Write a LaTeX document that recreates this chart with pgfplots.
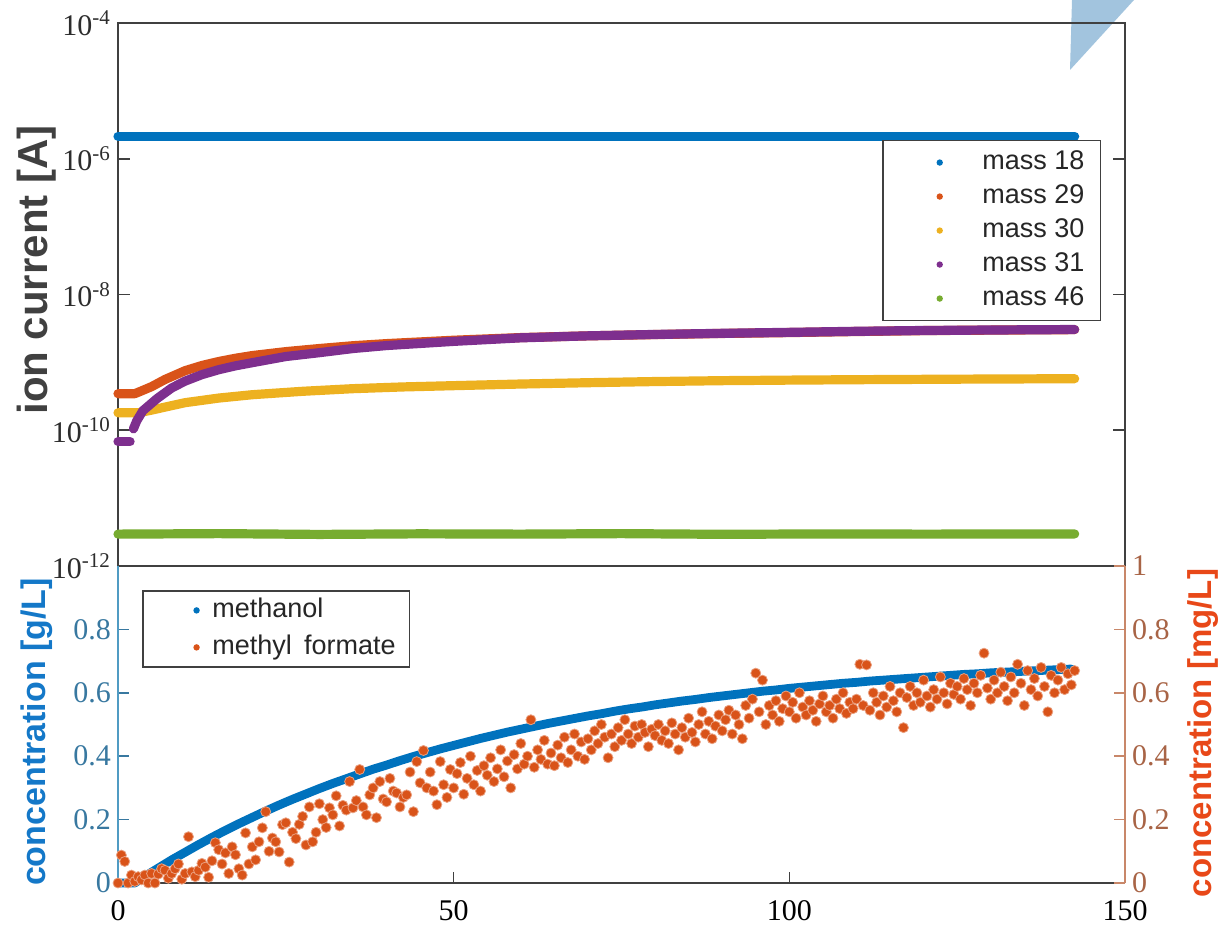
\documentclass[border=0pt]{standalone}
\usepackage{pgfplots}
\pgfplotsset{compat=1.18}
\usepackage{fontspec}
\setmainfont{Liberation Serif}
\newfontfamily\arial{Liberation Sans}

\definecolor{m18}{RGB}{0,114,189}
\definecolor{m29}{RGB}{217,83,25}
\definecolor{m30}{RGB}{237,177,32}
\definecolor{m31}{RGB}{126,47,142}
\definecolor{m46}{RGB}{119,172,48}
\definecolor{frame}{RGB}{64,64,64}
\definecolor{ticktext}{RGB}{45,45,45}
\definecolor{legtext}{RGB}{38,38,38}
\definecolor{lspine}{RGB}{80,155,195}
\definecolor{ltick}{RGB}{56,120,160}
\definecolor{rspine}{RGB}{200,135,105}
\definecolor{rtick}{RGB}{168,100,70}
\definecolor{lhead}{RGB}{20,120,200}
\definecolor{rhead}{RGB}{232,72,24}
\definecolor{corner}{RGB}{162,196,222}

\newcommand\tickfont{\fontsize{15}{17}\selectfont}
\newcommand\legfont{\arial\fontsize{13.5}{15}\selectfont}

\begin{document}
\begin{tikzpicture}
\path[use as bounding box] (0pt,0pt) rectangle (613.5pt,464pt);
% shaded corner mark
\fill[corner] (536pt,464pt) -- (567pt,464pt) -- (535pt,429pt) -- cycle;

% ---------------- ion currents (log scale) ----------------
\begin{axis}[
  at={(59pt,181pt)}, anchor=south west,
  scale only axis, width=503.5pt, height=271.5pt,
  xmin=0, xmax=150, ymode=log, ymin=1e-12, ymax=1e-4,
  xtick=\empty,
  ytick={1e-12,1e-10,1e-8,1e-6,1e-4},
  yticklabels={10\textsuperscript{-12},10\textsuperscript{-10},10\textsuperscript{-8},10\textsuperscript{-6},10\textsuperscript{-4}},
  yminorticks=false,
  ytick pos=both, yticklabel pos=left, tick align=inside,
  major tick length=6pt,
  axis line style={frame, line width=1pt},
  tick style={frame, line width=0.8pt},
  yticklabel style={font=\tickfont, color=ticktext},
  clip=false,
  legend cell align=left,
  legend style={at={(0.759,0.785)}, anchor=north west, draw=frame, line width=0.8pt,
    fill=white, inner xsep=6pt, inner ysep=2.5pt, font=\legfont, text=legtext,
    nodes={inner ysep=2pt, text height=10pt, text depth=3pt}},
  legend image code/.code={\path (0pt,0pt) (37pt,0pt); \fill[#1, draw=none] (20pt,0pt) circle (1.6pt);},
  every axis plot/.append style={line width=4.6pt, line cap=round, line join=round},
]
\addplot[m18] coordinates {(0,2.15e-6) (20,2.15e-6) (40,2.15e-6) (60,2.15e-6) (80,2.15e-6) (100,2.15e-6) (120,2.15e-6) (142.5,2.15e-6)};
\addlegendentry{mass 18}
\addplot[m29] coordinates {(0,3.46e-10) (1,3.46e-10) (2.5,3.46e-10) (3.5,3.8e-10) (5,4.39e-10) (7,5.6e-10) (10,7.55e-10) (12.5,9.0e-10) (15,1.03e-9) (17.5,1.15e-9) (20,1.26e-9) (25,1.44e-9) (30,1.60e-9) (35,1.76e-9) (40,1.89e-9) (50,2.12e-9) (60,2.32e-9) (70,2.46e-9) (80,2.57e-9) (90,2.67e-9) (100,2.75e-9) (110,2.85e-9) (120,2.94e-9) (130,2.99e-9) (142.5,3.04e-9)};
\addlegendentry{mass 29}
\addplot[m30] coordinates {(0,1.81e-10) (3,1.81e-10) (5,1.98e-10) (7.5,2.25e-10) (10,2.55e-10) (15,2.98e-10) (20,3.34e-10) (27.5,3.75e-10) (35,4.10e-10) (42.5,4.35e-10) (50,4.54e-10) (60,4.80e-10) (70,5.02e-10) (80,5.22e-10) (90,5.38e-10) (100,5.48e-10) (110,5.56e-10) (125,5.66e-10) (142.5,5.75e-10)};
\addlegendentry{mass 30}
\addplot[m31] coordinates {(2.3,1.05e-10) (2.8,1.38e-10) (3.7,1.94e-10) (5,2.5e-10) (5.8,2.92e-10) (8,4.2e-10) (10,5.3e-10) (12.5,6.6e-10) (15,7.8e-10) (17.5,8.9e-10) (20,9.9e-10) (25,1.22e-9) (30,1.39e-9) (35,1.6e-9) (40,1.77e-9) (50,2.04e-9) (60,2.30e-9) (70,2.46e-9) (80,2.58e-9) (90,2.68e-9) (100,2.77e-9) (110,2.87e-9) (120,2.95e-9) (130,3.00e-9) (142.5,3.05e-9)};
\addlegendentry{mass 31}
\addplot[m46] coordinates {(0,2.95e-12) (15,3.0e-12) (30,2.92e-12) (45,2.98e-12) (60,2.95e-12) (75,3.0e-12) (90,2.93e-12) (105,2.97e-12) (120,2.95e-12) (142.5,2.97e-12)};
\addlegendentry{mass 46}
\addplot[m31, forget plot] coordinates {(0,6.8e-11) (1.8,6.8e-11)};
\end{axis}

% ---------------- methanol (left axis) ----------------
\begin{axis}[
  at={(59pt,22.5pt)}, anchor=south west,
  scale only axis, width=503.5pt, height=158.5pt,
  xmin=0, xmax=150, ymin=0, ymax=1,
  xtick={0,50,100,150}, xtick pos=left,
  ytick={0,0.2,0.4,0.6,0.8}, ytick pos=left,
  tick align=inside, major tick length=5.5pt,
  axis line style={draw=none},
  x tick style={frame, line width=0.8pt},
  y tick style={ltick, line width=0.8pt},
  xticklabel style={font=\tickfont, color=black, yshift=-5pt, /pgf/number format/assume math mode=true},
  yticklabel style={font=\tickfont, color=ltick, /pgf/number format/fixed, /pgf/number format/assume math mode=true},
  clip=false,
]
\draw[frame, line width=1pt] (rel axis cs:0,0) -- (rel axis cs:1,0);
\draw[frame, line width=1pt] (rel axis cs:0,1) -- (rel axis cs:1,1);
\draw[lspine, line width=1pt] (rel axis cs:0,0) -- (rel axis cs:0,1);
\addplot[m18, line width=4.4pt, line cap=round, line join=round] coordinates {
(0,0) (1,0) (2,0) (2.5,0) (3,0.007) (4,0.021) (6,0.047) (8,0.073) (10,0.097) (12,0.121) (14,0.144) (16,0.166) (18,0.187) (20,0.207) (22,0.227) (24,0.246) (26,0.264) (28,0.281) (30,0.298) (32,0.314) (34,0.329) (36,0.344) (38,0.359) (40,0.372) (42,0.386) (44,0.399) (46,0.411) (48,0.423) (50,0.434) (52,0.445) (54,0.456) (56,0.466) (58,0.476) (60,0.485) (62,0.494) (64,0.503) (66,0.511) (68,0.519) (70,0.527) (72,0.534) (74,0.542) (76,0.549) (78,0.555) (80,0.562) (82,0.568) (84,0.574) (86,0.579) (88,0.585) (90,0.590) (92,0.595) (94,0.600) (96,0.605) (98,0.609) (100,0.614) (102,0.618) (104,0.622) (106,0.626) (108,0.630) (110,0.633) (112,0.637) (114,0.640) (116,0.643) (118,0.646) (120,0.649) (122,0.652) (124,0.655) (126,0.658) (128,0.660) (130,0.663) (132,0.665) (134,0.667) (136,0.669) (138,0.671) (140,0.673) (142,0.675)};
\end{axis}

% ---------------- methyl formate (right axis) ----------------
\begin{axis}[
  at={(59pt,22.5pt)}, anchor=south west,
  scale only axis, width=503.5pt, height=158.5pt,
  xmin=0, xmax=150, ymin=0, ymax=1,
  xtick=\empty,
  ytick={0,0.2,0.4,0.6,0.8,1}, ytick pos=right, yticklabel pos=right,
  tick align=inside, major tick length=5.5pt,
  axis line style={draw=none},
  y tick style={rspine, line width=0.8pt},
  yticklabel style={font=\tickfont, color=rtick, /pgf/number format/fixed, /pgf/number format/assume math mode=true},
  clip=false,
  legend cell align=left,
  legend style={at={(0.0238,0.924)}, anchor=north west, draw=frame, line width=0.8pt,
    fill=white, inner xsep=5pt, inner ysep=0.5pt, font=\legfont, text=legtext,
    nodes={inner ysep=2.75pt, text height=10pt, text depth=3pt}},
  legend image code/.code={\path (0pt,0pt) (27pt,0pt); \fill[#1, draw=none] (21.5pt,0pt) circle (1.6pt);},
]
\draw[rspine, line width=1pt] (rel axis cs:1,0) -- (rel axis cs:1,1);
\addlegendimage{m18}
\addlegendentry{methanol}
\addplot[only marks, mark=*, mark size=2.5pt, color=m29, mark options={fill=m29, draw=m29!55!white, line width=0.4pt}] coordinates {
(0,0) (0.5,0.088) (1,0.068) (1.5,0) (2,0.025) (2.5,0.005) (3,0.020) (3.5,0.010) (4,0.025) (4.5,0) (5,0.030) (5.5,0) (6,0.028) (6.5,0.045) (7,0.040) (7.5,0.015) (8,0.030) (8.5,0.045) (9,0.060) (9.5,0.012)
(10,0.030) (10.5,0.146) (11,0.035) (11.5,0.020) (12,0.040) (12.5,0.062) (13,0.050) (13.5,0.018) (14,0.070) (14.5,0.127) (15,0.105) (15.5,0.060) (16,0.095) (16.5,0.030) (17,0.114) (17.5,0.089) (18,0.045) (18.5,0.025) (19,0.158) (19.5,0.060)
(20,0.114) (20.5,0.073) (21,0.130) (21.5,0.174) (22,0.225) (22.5,0.100) (23,0.142) (23.5,0.130) (24,0.098) (24.5,0.184) (25,0.190) (25.5,0.066) (26,0.160) (26.5,0.140) (27,0.185) (27.5,0.210) (28,0.120) (28.5,0.240) (29,0.130) (29.5,0.160)
(30,0.250) (30.5,0.200) (31,0.175) (31.5,0.237) (32,0.215) (32.5,0.275) (33,0.180) (33.5,0.245) (34,0.230) (34.5,0.320) (35,0.237) (35.5,0.260) (36,0.358) (36.5,0.240) (37,0.215) (37.5,0.278) (38,0.300) (38.5,0.206) (39,0.320) (39.5,0.265)
(40,0.256) (40.5,0.330) (41,0.290) (41.5,0.284) (42,0.240) (42.5,0.270) (43,0.278) (43.5,0.350) (44,0.225) (44.5,0.383) (45,0.316) (45.5,0.418) (46,0.300) (46.5,0.350) (47,0.290) (47.5,0.247) (48,0.383) (48.5,0.310) (49,0.270) (49.5,0.358)
(50,0.300) (50.5,0.345) (51,0.380) (51.5,0.280) (52,0.330) (52.5,0.400) (53,0.310) (53.5,0.355) (54,0.290) (54.5,0.370) (55,0.340) (55.5,0.395) (56,0.320) (56.5,0.360) (57,0.420) (57.5,0.335) (58,0.385) (58.5,0.300) (59,0.405) (59.5,0.360)
(60,0.440) (60.5,0.375) (61,0.400) (61.5,0.515) (62,0.365) (62.5,0.420) (63,0.390) (63.5,0.450) (64,0.375) (64.5,0.410) (65,0.370) (65.5,0.435) (66,0.395) (66.5,0.460) (67,0.380) (67.5,0.420) (68,0.470) (68.5,0.400) (69,0.445) (69.5,0.390)
(70,0.455) (70.5,0.420) (71,0.480) (71.5,0.440) (72,0.500) (72.5,0.460) (73,0.395) (73.5,0.470) (74,0.430) (74.5,0.490) (75,0.450) (75.5,0.515) (76,0.470) (76.5,0.440) (77,0.495) (77.5,0.460) (78,0.500) (78.5,0.475) (79,0.430) (79.5,0.485)
(80,0.465) (80.5,0.500) (81,0.450) (81.5,0.480) (82,0.440) (82.5,0.505) (83,0.470) (83.5,0.420) (84,0.490) (84.5,0.460) (85,0.520) (85.5,0.475) (86,0.445) (86.5,0.500) (87,0.540) (87.5,0.470) (88,0.510) (88.5,0.455) (89,0.495) (89.5,0.530)
(90,0.480) (90.5,0.515) (91,0.545) (91.5,0.470) (92,0.530) (92.5,0.500) (93,0.455) (93.5,0.560) (94,0.520) (94.5,0.580) (95,0.662) (95.5,0.540) (96,0.640) (96.5,0.500) (97,0.560) (97.5,0.530) (98,0.575) (98.5,0.510) (99,0.550) (99.5,0.590)
(100,0.540) (100.5,0.570) (101,0.520) (101.5,0.600) (102,0.555) (102.5,0.530) (103,0.575) (103.5,0.545) (104,0.510) (104.5,0.565) (105,0.590) (105.5,0.540) (106,0.560) (106.5,0.520) (107,0.580) (107.5,0.550) (108,0.600) (108.5,0.535) (109,0.570) (109.5,0.550)
(110,0.580) (110.5,0.690) (111,0.560) (111.5,0.688) (112,0.545) (112.5,0.600) (113,0.570) (113.5,0.530) (114,0.590) (114.5,0.555) (115,0.620) (115.5,0.575) (116,0.540) (116.5,0.600) (117,0.490) (117.5,0.585) (118,0.620) (118.5,0.560) (119,0.600) (119.5,0.570)
(120,0.640) (120.5,0.590) (121,0.555) (121.5,0.610) (122,0.580) (122.5,0.650) (123,0.600) (123.5,0.565) (124,0.630) (124.5,0.595) (125,0.620) (125.5,0.580) (126,0.645) (126.5,0.610) (127,0.560) (127.5,0.630) (128,0.600) (128.5,0.655) (129,0.725) (129.5,0.615)
(130,0.580) (130.5,0.640) (131,0.600) (131.5,0.665) (132,0.620) (132.5,0.575) (133,0.650) (133.5,0.600) (134,0.690) (134.5,0.630) (135,0.560) (135.5,0.670) (136,0.610) (136.5,0.645) (137,0.590) (137.5,0.680) (138,0.620) (138.5,0.540) (139,0.655) (139.5,0.600)
(140,0.640) (140.5,0.680) (141,0.610) (141.5,0.660) (142,0.625) (142.5,0.670)};
\addlegendentry{methyl\hspace{0.45em}formate}
\end{axis}

% axis titles
\node[rotate=90, font=\arial\bfseries\fontsize{21}{23}\selectfont, text=frame] at (18.5pt,329pt) {ion current [A]};
\node[rotate=90, font=\arial\bfseries\fontsize{17}{19}\selectfont, text=lhead] at (18.5pt,98pt) {concentration [g/L]};
\node[rotate=90, font=\arial\bfseries\fontsize{16.5}{19}\selectfont, text=rhead] at (601.5pt,97.5pt) {concentration [mg/L]};
\end{tikzpicture}
\end{document}
